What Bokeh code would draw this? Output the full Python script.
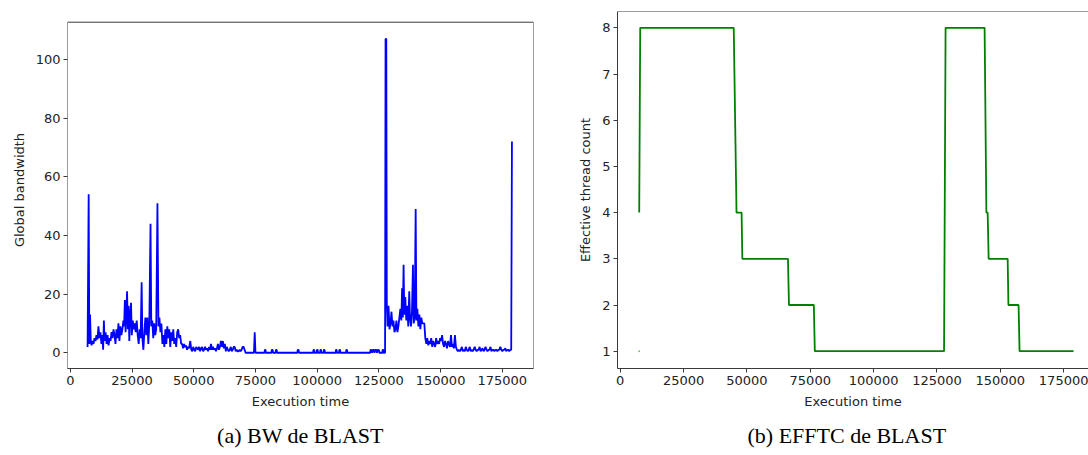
from bokeh.plotting import figure
from bokeh.layouts import row
from bokeh.models import Range1d, FixedTicker, Title, NumeralTickFormatter, Span, BoxAnnotation
from bokeh.embed import file_html
from bokeh.resources import INLINE

# ---------------------------------------------------------------------------
# Global bandwidth of BLAST over execution time
# ---------------------------------------------------------------------------
bw_time = [
    7000, 7440, 7700, 8000, 8300, 8600, 9000, 9400, 9800, 10200, 10600, 11000,
    11400, 11800, 12200, 12600, 13000, 13300, 13600, 13900, 14300, 14700,
    15100, 15500, 15900, 16300, 16700, 17100, 17500, 17900, 18300, 18700,
    19100, 19500, 19900, 20300, 20700, 21100, 21500, 21800, 22100, 22400,
    22700, 23000, 23300, 23600, 23900, 24200, 24600, 24900, 25300, 25700,
    26100, 26500, 26900, 27300, 27700, 28100, 28500, 28900, 29200, 29600,
    30000, 30400, 30800, 31200, 31600, 32000, 32500, 32800, 33200, 33600,
    34000, 34400, 34800, 35300, 35700, 36100, 36500, 36900, 37300, 37700,
    38100, 38500, 38900, 39300, 39700, 40100, 40500, 40900, 41300, 41700,
    42100, 42500, 42900, 43300, 43700, 44100, 44500, 44900, 45300, 45700,
    46100, 46500, 46900, 47300, 47700, 48100, 48600, 49000, 49400, 49800,
    50200, 50600, 51000, 51400, 51800, 52200, 52600, 53000, 53400, 53800,
    54200, 54600, 55000, 55400, 55800, 56200, 56600, 57000, 57400, 57800,
    58200, 58600, 59000, 59400, 59800, 60200, 60600, 61000, 61400, 61800,
    62200, 62600, 63000, 63400, 63800, 64200, 64600, 65000, 65400, 65800,
    66200, 66600, 67000, 67400, 67800, 68200, 68600, 69000, 69400, 69800,
    70200, 70600, 71000, 74400, 74700, 75000, 78700, 78800, 79100, 79200,
    81500, 81600, 82000, 82100, 83200, 83300, 83600, 83700, 92000, 92100,
    92500, 92600, 98400, 98500, 98800, 98900, 99800, 99900, 100200, 100300,
    101200, 101300, 101600, 101700, 102600, 102700, 103000, 103100, 107500,
    107600, 107900, 108000, 108900, 109000, 109300, 109400, 111700, 111800,
    112100, 112200, 121500, 121600, 122000, 122200, 122600, 123000, 123200,
    123500, 124000, 124200, 124600, 125000, 125200, 126400, 126500, 126800,
    126900, 127500, 127700, 128000, 128200, 128500, 128900, 129300, 129700,
    130100, 130500, 130900, 131300, 131700, 132100, 132500, 132900, 133300,
    133700, 134100, 134400, 134700, 135000, 135300, 135700, 136100, 136500,
    136900, 137300, 137600, 138000, 138400, 138800, 139100, 139500, 139900,
    140200, 140600, 141000, 141400, 141800, 142200, 142600, 143000, 143400,
    143800, 144200, 144600, 145000, 145400, 145800, 146200, 146600, 147000,
    147400, 147800, 148200, 148600, 149000, 149400, 149800, 150200, 150600,
    151000, 151400, 151800, 152200, 152600, 153000, 153400, 153800, 154200,
    154600, 155000, 155400, 155800, 156200, 156600, 157000, 157400, 157800,
    158200, 158600, 159000, 159400, 159800, 160200, 160600, 161000, 161400,
    161800, 162200, 162600, 163000, 163400, 163800, 164200, 164600, 165000,
    165400, 165800, 166200, 166600, 167000, 167400, 167800, 168200, 168600,
    169000, 169400, 169800, 170200, 170600, 171000, 171400, 171800, 172200,
    172600, 173000, 173400, 173800, 174200, 174600, 175000, 175400, 175800,
    176200, 176600, 177000, 177400, 177800, 178200, 178600, 178900,
]
bw_value = [
    2, 54, 3, 13, 4, 2.5, 4, 3, 5, 4, 6, 4.5,
    9, 5, 7, 3, 6, 1, 11, 4, 7, 3,
    6, 2.5, 5, 4, 7, 5, 8, 6, 3, 8,
    5, 10, 4, 9, 6, 8, 11, 9, 18, 7,
    14, 21, 8, 16, 4, 12, 17, 6, 11, 8,
    10, 7, 11, 6, 3, 8, 5, 24, 5, 1,
    7, 12, 6, 12, 3, 10, 44, 9, 11, 5,
    10, 6, 8, 51, 9, 12, 7, 10, 3, 6,
    2, 8, 3, 9, 5, 8, 2, 7, 4, 8,
    3, 5, 2, 7, 8, 5, 6, 3, 3, 1.5,
    3, 2, 2.5, 1, 2, 1.5, 4, 1, 0.5, 2,
    1, 0.5, 2, 1.5, 1, 2, 0.5, 1.5, 2, 0.5,
    1, 2, 1, 1.5, 0.5, 2, 1, 3, 1, 2,
    1, 1.5, 0.5, 1.5, 3, 1, 2, 4, 2, 4,
    1.5, 3, 0.5, 2, 1, 0.5, 1, 2, 0.5, 1,
    2, 2, 0.5, 1, 0.5, 0.5, 1, 0.5, 1, 2,
    2, 1, 0, 0, 7, 0, 0, 1, 1, 0,
    0, 1, 1, 0, 0, 1, 1, 0, 0, 1,
    1, 0, 0, 1, 1, 0, 0, 1, 1, 0,
    0, 1, 1, 0, 0, 1, 1, 0, 0,
    1, 1, 0, 0, 1, 1, 0, 0, 1,
    1, 0, 0, 1, 1, 0, 1, 1, 0,
    1, 1, 0, 1, 1, 0, 0, 1, 1,
    0, 0, 107, 107, 17, 9, 16, 8, 10,
    14, 9, 11, 7, 8, 11, 7, 9, 12,
    15, 11, 22, 12, 30, 13, 19, 11, 16,
    9, 21, 12, 9, 14, 30, 10, 12, 49,
    11, 15, 9, 13, 8, 12, 10, 10, 10,
    5, 3, 5, 2.5, 4, 3, 5, 2, 4,
    3, 2, 5, 3, 4, 3, 5, 4, 6,
    3, 2, 4, 3, 1.5, 4, 3, 2, 6,
    2, 3, 1.5, 6, 2, 1, 0.5, 1, 0.5,
    1, 2, 0.5, 1, 0.5, 2, 1, 0.5, 1,
    2, 0.5, 1, 0.5, 1, 2, 1, 0.5, 1,
    1, 2, 0.5, 1, 1.5, 0.5, 1, 2, 1,
    0.5, 1, 1, 2, 0.5, 1, 1, 0.5, 1,
    1, 0.5, 1, 1, 2, 1, 0.5, 1, 1,
    1.5, 0.5, 1, 1, 0.5, 1, 1, 72,
]

# ---------------------------------------------------------------------------
# Effective thread count of BLAST over execution time
# ---------------------------------------------------------------------------
eff_time = [7500, 7900, 44800, 45900, 47900, 48200, 66200, 66600, 76400,
            76800, 127800, 128400, 143800, 144500, 145000, 145400, 152900,
            153200, 157200, 157600, 178900]
eff_threads = [4, 8, 8, 4, 4, 3, 3, 2, 2,
               1, 1, 8, 8, 4, 4, 3, 3,
               2, 2, 1, 1]
stray_time = [7500]
stray_threads = [1]

time_ticks = [0, 25000, 50000, 75000, 100000, 125000, 150000, 175000]
bw_ticks = [0, 20, 40, 60, 80, 100]
thread_ticks = [1, 2, 3, 4, 5, 6, 7, 8]

AXIS_COLOR = "#3a3a3a"
TEXT_COLOR = "#222222"
SANS = "DejaVu Sans"
SERIF = "Liberation Serif"


def style_axes(p, xticks, yticks, xlabel, ylabel):
    p.xaxis.ticker = FixedTicker(ticks=xticks)
    p.yaxis.ticker = FixedTicker(ticks=yticks)
    p.xaxis.formatter = NumeralTickFormatter(format="0")
    p.yaxis.formatter = NumeralTickFormatter(format="0")
    p.xaxis.axis_label = xlabel
    p.yaxis.axis_label = ylabel
    for ax in (p.xaxis, p.yaxis):
        ax.axis_line_color = AXIS_COLOR
        ax.major_tick_line_color = AXIS_COLOR
        ax.minor_tick_line_color = None
        ax.major_tick_out = 4
        ax.major_tick_in = 0
        ax.major_label_standoff = 3
        ax.major_label_text_font = SANS
        ax.major_label_text_font_size = "13px"
        ax.major_label_text_color = TEXT_COLOR
        ax.axis_label_text_font = SANS
        ax.axis_label_text_font_size = "13px"
        ax.axis_label_text_font_style = "normal"
        ax.axis_label_text_color = TEXT_COLOR
        ax.axis_label_standoff = 6
    p.xgrid.visible = False
    p.ygrid.visible = False
    p.outline_line_color = None
    p.background_fill_color = "white"
    p.border_fill_color = "white"


def add_caption(p, text, align="center", offset=0, standoff=18):
    p.add_layout(Title(text=text, align=align, offset=offset,
                       text_font=SERIF, text_font_size="22px",
                       text_font_style="normal", text_color="black",
                       standoff=standoff), "below")


# Both panels share the same frame top (row layouts align the frames);
# the bandwidth axes box sits a little lower and is drawn as a box outline.
bw_x = (-1135, 187630)
bw_y = (-5.37, 112.7)

p1 = figure(frame_width=466, frame_height=357,
            min_border_left=67, min_border_right=7,
            min_border_top=11, min_border_bottom=87,
            x_range=Range1d(*bw_x), y_range=Range1d(bw_y[0], 116.35),
            output_backend="svg", toolbar_location=None)
p1.line(bw_time, bw_value, line_color="#0000ff", line_width=1.8)
style_axes(p1, time_ticks, bw_ticks, "Execution time", "Global bandwidth")
p1.yaxis.axis_line_color = None
p1.add_layout(BoxAnnotation(left=bw_x[0], right=bw_x[1],
                            bottom=bw_y[0], top=bw_y[1],
                            fill_color=None, fill_alpha=0,
                            line_color=AXIS_COLOR, line_alpha=1.0,
                            line_width=1))
add_caption(p1, "(a) BW de BLAST")

# (b) effective thread count; the panel runs past the right edge, so only
# its top border is drawn (a span along the upper limit) instead of an outline
thread_top = 8.353
p2 = figure(frame_width=471, frame_height=357,
            min_border_left=77, min_border_right=0,
            min_border_top=11, min_border_bottom=87,
            x_range=Range1d(-1070, 184800), y_range=Range1d(0.626, thread_top),
            output_backend="svg", toolbar_location=None)
p2.line(eff_time, eff_threads, line_color="#008000", line_width=1.8)
p2.scatter(stray_time, stray_threads, size=2, color="#7fc07f", line_color=None)
style_axes(p2, time_ticks, thread_ticks, "Execution time", "Effective thread count")
p2.add_layout(Span(location=thread_top, dimension="width",
                   line_color=AXIS_COLOR, line_width=1))
add_caption(p2, "(b) EFFTC de BLAST", align="left", offset=130)

layout = row(p1, p2, spacing=0)
open("out.html", "w").write(file_html(layout, INLINE))
